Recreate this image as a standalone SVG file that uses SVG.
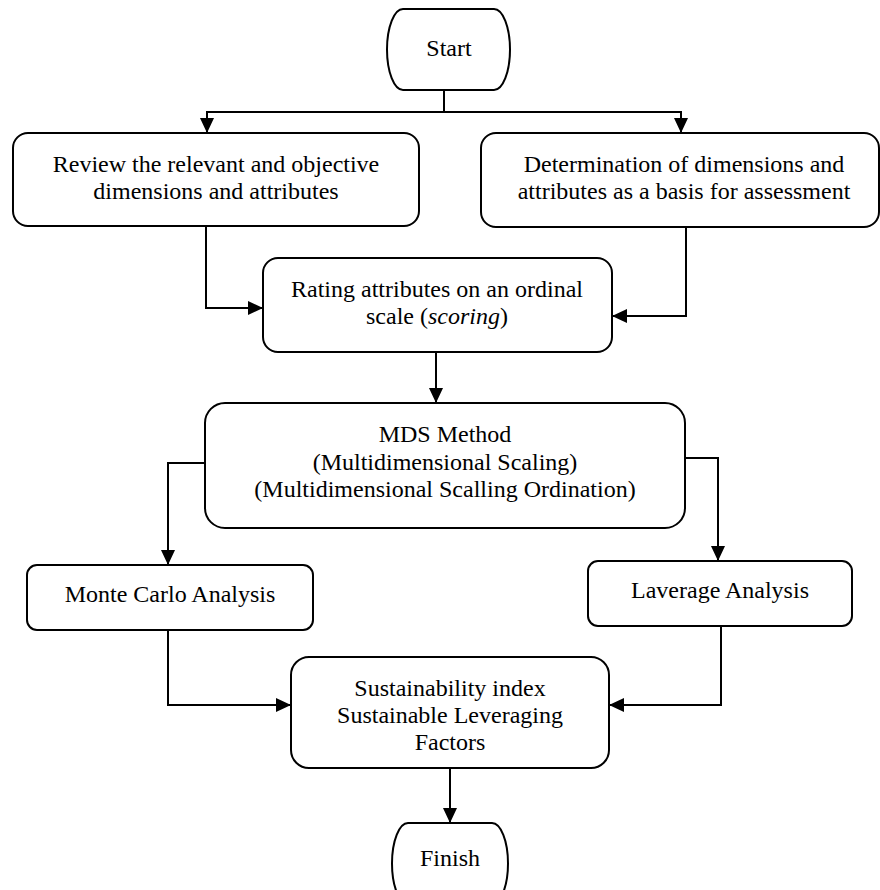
<svg xmlns="http://www.w3.org/2000/svg" width="880" height="890" viewBox="0 0 880 890">
<defs>
<marker id="arr" markerUnits="userSpaceOnUse" markerWidth="16" markerHeight="14" refX="15" refY="7" orient="auto">
<path d="M0,0 L15,7 L0,14 Z" fill="#000"/>
</marker>
<style>
.box{fill:#fff;stroke:#000;stroke-width:2}
.t{font-family:"Liberation Serif","Times New Roman",serif;font-size:24px;fill:#000;text-anchor:middle}
.c{fill:none;stroke:#000;stroke-width:2;marker-end:url(#arr)}
</style>
</defs>
<rect width="880" height="890" fill="#fff"/>
<g id="connectors">
<path class="c" d="M444,90 V112 H207 V133"/>
<path class="c" d="M444,112 H681 V133"/>
<path class="c" d="M206,226 V308 H263"/>
<path class="c" d="M686,227 V316 H612"/>
<path class="c" d="M436,352 V403"/>
<path class="c" d="M205,463 H168 V565"/>
<path class="c" d="M685,458 H718 V561"/>
<path class="c" d="M168,630 V705 H291"/>
<path class="c" d="M721,626 V705 H609"/>
<path class="c" d="M450,768 V823"/>
</g>
<g id="start">
<path class="box" d="M403,9 H494 A16,40.5 0 0 1 494,90 H403 A16,40.5 0 0 1 403,9 Z"/>
<text class="t" x="449" y="56">Start</text>
</g>
<g id="review">
<rect class="box" x="13" y="133" width="406" height="93" rx="15"/>
<text class="t" x="216" y="172">Review the relevant and objective</text>
<text class="t" x="216" y="199">dimensions and attributes</text>
</g>
<g id="determination">
<rect class="box" x="481" y="133" width="398" height="94" rx="15"/>
<text class="t" x="684" y="172">Determination of dimensions and</text>
<text class="t" x="684" y="199">attributes as a basis for assessment</text>
</g>
<g id="rating">
<rect class="box" x="263" y="258" width="349" height="94" rx="15"/>
<text class="t" x="437" y="297">Rating attributes on an ordinal</text>
<text class="t" x="437" y="324">scale (<tspan font-style="italic">scoring</tspan>)</text>
</g>
<g id="mds">
<rect class="box" x="205" y="403" width="480" height="125" rx="20"/>
<text class="t" x="445" y="442">MDS Method</text>
<text class="t" x="445" y="470">(Multidimensional Scaling)</text>
<text class="t" x="445" y="497">(Multidimensional Scalling Ordination)</text>
</g>
<g id="montecarlo">
<rect class="box" x="27" y="565" width="286" height="65" rx="10"/>
<text class="t" x="170" y="602">Monte Carlo Analysis</text>
</g>
<g id="laverage">
<rect class="box" x="588" y="561" width="264" height="65" rx="10"/>
<text class="t" x="720" y="598">Laverage Analysis</text>
</g>
<g id="sustainability">
<rect class="box" x="291" y="657" width="318" height="111" rx="18"/>
<text class="t" x="450" y="696">Sustainability index</text>
<text class="t" x="450" y="723">Sustainable Leveraging</text>
<text class="t" x="450" y="750">Factors</text>
</g>
<g id="finish">
<path class="box" d="M408,823 H492 A16,40.5 0 0 1 492,904 H408 A16,40.5 0 0 1 408,823 Z"/>
<text class="t" x="450" y="866">Finish</text>
</g>
</svg>
